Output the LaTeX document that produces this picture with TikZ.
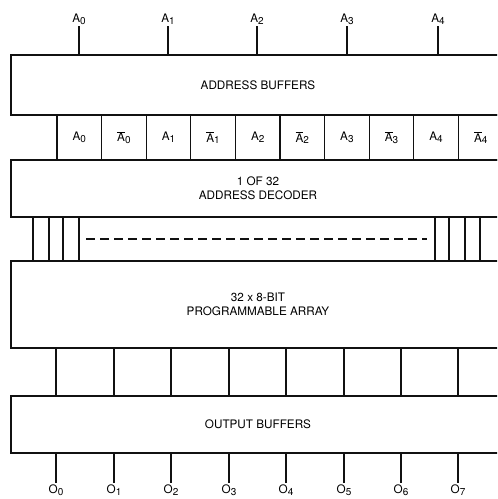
\documentclass[tikz,border=0pt]{standalone}
\usepackage{fontspec}
\setmainfont{TeX Gyre Heros}
\usetikzlibrary{positioning,calc}
\definecolor{ink}{HTML}{111111}
\newcommand{\sub}[1]{\raisebox{-1.6pt}{\fontsize{8.5}{10}\selectfont#1}}
\newcommand{\sig}[1]{A\sub{#1}}
\newcommand{\nsig}[1]{$\overline{\hbox{A}}$\sub{#1}}
\newcommand{\outp}[1]{O\sub{#1}}
\tikzset{
  blk/.style={draw=ink,line width=1.7pt,minimum width=14.82cm,inner sep=0pt,font=\fontsize{10}{12}\selectfont,align=center},
  cell/.style={draw=ink,line width=1.1pt,minimum width=1.338cm,minimum height=1.35cm,inner sep=0pt,font=\fontsize{10}{12}\selectfont},
  pin/.style={font=\fontsize{10}{12}\selectfont,inner sep=1pt},
  wire/.style={ink,line width=1.1pt},
}
\begin{document}
\begin{tikzpicture}[x=0.03cm,y=-0.03cm]
\useasboundingbox (0,0) rectangle (497,499);
\clip (0,0) rectangle (497,499);
% blocks
\node[blk,minimum height=1.8cm] (abuf) at (258,85) {ADDRESS BUFFERS};
\node[blk,minimum height=1.71cm] (dec) at (258,188.5) {1 OF 32\\ADDRESS DECODER};
\node[blk,minimum height=2.61cm] (arr) at (258,304.5) {32 x 8-BIT\\PROGRAMMABLE ARRAY};
\node[blk,minimum height=1.71cm] (obuf) at (258,424.5) {OUTPUT BUFFERS};
% true and complement lines
\foreach \i in {0,...,4} {
  \node[cell] (c\i) at ({79.3+89.2*\i},137.5) {\sig{\i}};
  \node[cell] (n\i) at ({123.9+89.2*\i},137.5) {\nsig{\i}};
}
% address inputs
\foreach \x [count=\i from 0] in {79,168,257,347,438} {
  \node[pin,anchor=south] (in\i) at (\x,26) {\sig{\i}};
  \draw[wire] (in\i.south) -- (in\i.south |- abuf.north);
}
% word lines
\foreach \x [count=\k] in {33,49,63,79,435,449,465,480} {
  \coordinate (w\k) at (\x,0);
  \draw[wire] (dec.south -| w\k) -- (arr.north -| w\k);
}
\coordinate (dl) at (86,239);
\coordinate (dr) at (427,239);
\draw[wire,dash pattern=on 0.27cm off 0.15cm] (dl) -- (dr);
% outputs
\foreach \x [count=\i from 0] in {56,114,171,229,286,344,401,458} {
  \coordinate (q\i) at (\x,0);
  \draw[wire] (arr.south -| q\i) -- (obuf.north -| q\i);
  \node[pin,anchor=north] (out\i) at (\x,483) {\outp{\i}};
  \draw[wire] (obuf.south -| q\i) -- (out\i.north);
}
\end{tikzpicture}
\end{document}
